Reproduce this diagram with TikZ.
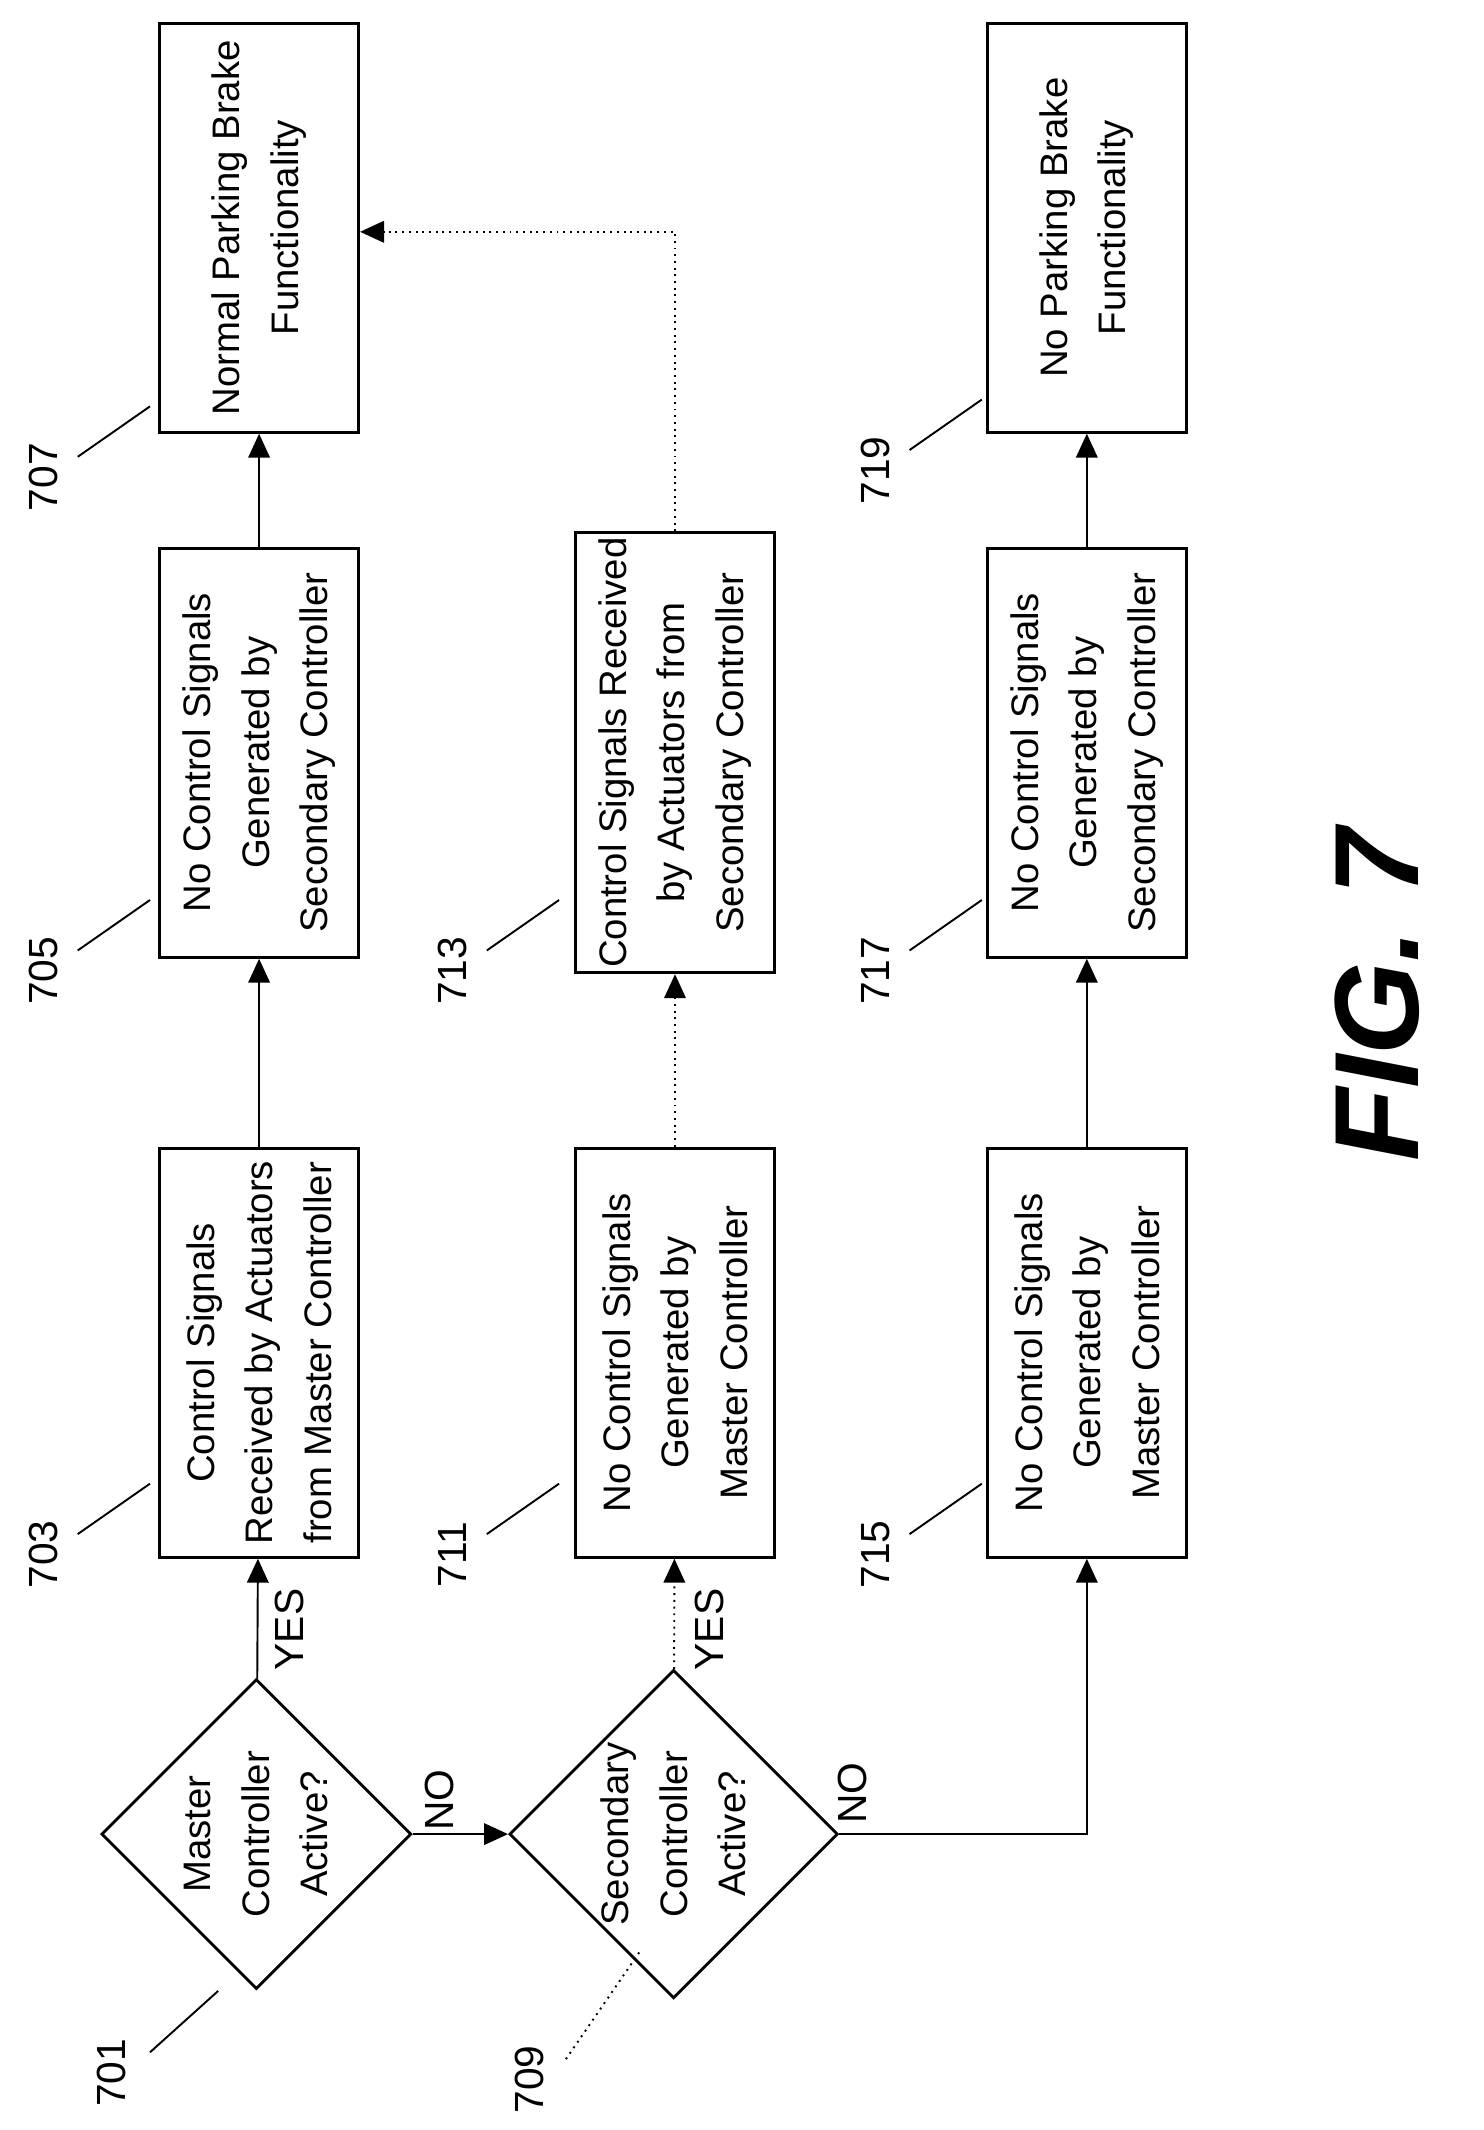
\documentclass[tikz,border=0pt]{standalone}
\usepackage{fontspec}
\setmainfont{Liberation Sans}
\usetikzlibrary{arrows.meta,shapes.geometric}
\tikzset{
  box/.style={draw, semithick, rotate=90, minimum width=3cm, minimum height=1.46cm, align=center, inner sep=1pt, font=\fontsize{8}{12.2}\selectfont},
  dec/.style={draw, semithick, diamond, rotate=90, minimum width=2.12cm, minimum height=2.18cm, inner sep=0pt, align=center, font=\fontsize{8}{12.2}\selectfont},
  arr/.style={-{Triangle[length=5pt,width=4.5pt]}, thin},
  dots/.style={arr, densely dotted},
  lbl/.style={rotate=90, font=\fontsize{8.5}{10}\selectfont},
  lead/.style={thin}
}
\begin{document}
\begin{tikzpicture}
    \useasboundingbox (0,0) rectangle (10.88,-15.62);

    % Decisions
    \node[dec] (d701) at (1.88,-13.45) {Master\\Controller\\Active?};
    \node[dec] (d709) at (4.94,-13.45) {Secondary\\Controller\\Active?};

    % Boxes
    \node[box] (b703) at (1.90,-9.92) {Control Signals\\Received by Actuators\\from Master Controller};
    \node[box] (b705) at (1.90,-5.52) {No Control Signals\\Generated by\\Secondary Controller};
    \node[box] (b707) at (1.90,-1.67) {Normal Parking Brake\\Functionality};
    \node[box] (b711) at (4.95,-9.92) {No Control Signals\\Generated by\\Master Controller};
    \node[box] (b713) at (4.95,-5.52) {Control Signals Received\\by Actuators from\\Secondary Controller};
    \node[box] (b715) at (7.97,-9.92) {No Control Signals\\Generated by\\Master Controller};
    \node[box] (b717) at (7.97,-5.52) {No Control Signals\\Generated by\\Secondary Controller};
    \node[box] (b719) at (7.97,-1.67) {No Parking Brake\\Functionality};

    % Connectors
    \coordinate (c713) at (4.95,-1.70);
    \draw[arr] (d701) -- (b703);
    \draw[arr] (b703) -- (b705);
    \draw[arr] (b705) -- (b707);
    \draw[arr] (d701.south) -- (d709.north);
    \draw[dots] (d709) -- (b711);
    \draw[dots] (b711) -- (b713);
    \draw[dots] (b713) -- (c713) -- (b707.south |- c713);
    \draw[arr] (d709.south) -| (b715);
    \draw[arr] (b715) -- (b717);
    \draw[arr] (b717) -- (b719);

    % Branch labels
    \node[lbl] (yes1) at (2.12,-11.95) {YES};
    \node[lbl] (no1) at (3.22,-13.20) {NO};
    \node[lbl] (yes2) at (5.20,-11.95) {YES};
    \node[lbl] (no2) at (6.25,-13.15) {NO};

    % Reference numerals
    \node[lbl] (r701) at (0.82,-15.20) {701};
    \draw[lead] (1.10,-15.05) -- (1.60,-14.60);
    \node[lbl] (r709) at (3.88,-15.25) {709};
    \draw[lead, densely dotted] (4.15,-15.10) -- (4.70,-14.30);
    \foreach \n/\x/\y in {703/0.32/-11.40, 705/0.32/-7.12, 707/0.32/-3.50,
                          711/3.32/-11.40, 713/3.32/-7.12,
                          715/6.42/-11.40, 717/6.42/-7.12, 719/6.42/-3.45} {
        \node[lbl] (r\n) at (\x,\y) {\n};
        \draw[lead] (\x+0.25,\y+0.15) -- (\x+0.78,\y+0.52);
    }

    \node[rotate=90, font=\fontsize{25}{30}\selectfont\bfseries\itshape] (fig) at (10.10,-7.30) {FIG. 7};
\end{tikzpicture}
\end{document}
